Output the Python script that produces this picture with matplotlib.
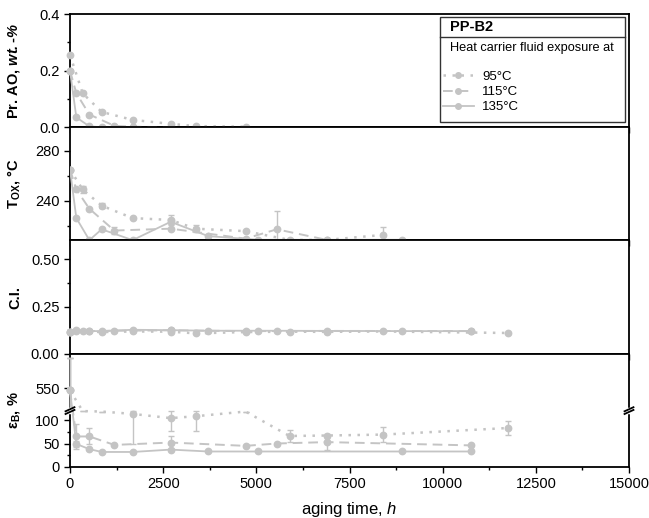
import numpy as np
import matplotlib
matplotlib.use("Agg")
import matplotlib.pyplot as plt
from matplotlib.lines import Line2D
from matplotlib.patches import Rectangle

plt.rcParams['font.family'] = ['Liberation Sans', 'DejaVu Sans']
plt.rcParams['mathtext.fontset'] = 'custom'
plt.rcParams['mathtext.rm'] = 'Liberation Sans'
plt.rcParams['mathtext.it'] = 'Liberation Sans:italic'
plt.rcParams['mathtext.bf'] = 'Liberation Sans:bold'
plt.rcParams['mathtext.bfit'] = 'Liberation Sans:bold:italic'

# ---- data ----
temps = ['95°C', '115°C', '135°C']

# Pr. AO, wt.-%
ao_t95 = [0, 340, 850, 1680, 2700, 3370, 4710]
ao_v95 = [0.255, 0.12, 0.054, 0.026, 0.012, 0.004, 0.002]
ao_t115 = [0, 170, 520, 1190, 1680, 2700]
ao_v115 = [0.20, 0.12, 0.045, 0.005, 0.002, 0.0]
ao_t135 = [0, 170, 520, 850, 1190, 1680]
ao_v135 = [0.20, 0.035, 0.003, 0.0, 0.0, 0.0]

# Tox, °C
tox_t95 = [0, 340, 850, 1680, 2700, 3370, 4710, 5890, 6890, 8410]
tox_v95 = [265, 249, 236, 226, 224.5, 217.5, 215.5, 208.5, 208.5, 212.5]
tox_e95 = [0, 3, 2, 0, 4, 3, 0, 0, 0, 6]
tox_t115 = [0, 170, 520, 1190, 2700, 4710, 5550, 6890]
tox_v115 = [265, 249, 233.5, 216, 217.5, 209.5, 217, 208.5]
tox_e115 = [0, 0, 0, 3, 0, 0, 15, 0]
tox_t135 = [0, 170, 520, 850, 1680, 2700, 3710, 5050, 8900]
tox_v135 = [265, 226, 208.3, 217, 208.3, 223, 211.5, 208.6, 208.6]

# C.I.
ci_t95 = [0, 340, 850, 1680, 2700, 3370, 4710, 5890, 6890, 8410, 11760]
ci_v95 = [0.113, 0.118, 0.115, 0.118, 0.117, 0.108, 0.115, 0.117, 0.116, 0.118, 0.11]
ci_t115 = [0, 170, 520, 1190, 2700, 4710, 5550, 6890, 10760]
ci_v115 = [0.113, 0.122, 0.12, 0.122, 0.124, 0.12, 0.12, 0.121, 0.12]
ci_t135 = [0, 170, 520, 850, 1680, 2700, 3710, 5050, 8900, 10760]
ci_v135 = [0.113, 0.125, 0.12, 0.12, 0.127, 0.125, 0.122, 0.122, 0.12, 0.12]

# elongation at break, %
eb_t95 = [0, 340, 850, 1680, 2700, 3370, 4710, 5890, 6890, 8410, 11760]
eb_v95 = [545, 119, 118, 113, 104, 108, 118, 66, 67, 69, 83]
eb_e95 = [70, 0, 0, 63, 27, 31, 0, 12, 0, 16, 14]
eb_t115 = [0, 170, 520, 1190, 2700, 4710, 5550, 6890, 10760]
eb_v115 = [545, 65, 65, 47, 52, 45, 50, 53, 46]
eb_e115 = [70, 27, 17, 0, 13, 0, 0, 17, 0]
eb_t135 = [0, 170, 520, 850, 1680, 2700, 3710, 5050, 8900, 10760]
eb_v135 = [545, 49, 38, 32, 32, 37, 33, 33, 33, 33]
eb_e135 = [70, 7, 0, 0, 0, 0, 0, 0, 0, 0]

grey = '#c4c4c4'
styles = [(0, (1, 2.6)), (0, (5, 3)), '-']
lws = [1.8, 1.4, 1.3]

fig = plt.figure(figsize=(6.49, 5.18), dpi=100)
top, bottom = 1 - 14 / 518, 1 - 467 / 518
left, right = 70 / 649, 629 / 649
axs = fig.subplots(4, 1, sharex=True,
                   gridspec_kw=dict(hspace=0, left=left, right=right, top=top, bottom=bottom))


def series(ax, t, v, k, err=None, clip=True, hide=None):
    mk = None
    if hide is not None:
        mk = [i for i, y in enumerate(v) if not hide(y)]
    ax.errorbar(t, v, yerr=err, color=grey, ls=styles[k], lw=lws[k],
                marker='o', ms=4.6, markevery=mk, ecolor=grey, elinewidth=1.0,
                capsize=2.5, capthick=1.0, clip_on=clip, zorder=3)


# panel 1
ax = axs[0]
series(ax, ao_t95, ao_v95, 0, clip=False)
series(ax, ao_t115, ao_v115, 1, clip=False)
series(ax, ao_t135, ao_v135, 2, clip=False)
ax.set_ylim(0, 0.4)
ax.set_yticks([0.0, 0.2, 0.4])
ax.set_yticks([0.1, 0.3], minor=True)
ax.set_yticklabels(['0.0', '0.2', '0.4'])
ax.set_ylabel('Pr. AO, $\\mathbfit{wt.}$-$\\mathbfit{\\%}$', fontweight='bold')

# panel 2
ax = axs[1]
series(ax, tox_t95, tox_v95, 0, err=tox_e95)
series(ax, tox_t115, tox_v115, 1, err=tox_e115)
series(ax, tox_t135, tox_v135, 2)
ax.set_ylim(208, 299)
ax.set_yticks([240, 280])
ax.set_yticks([220, 260], minor=True)
ax.set_ylabel('$\\mathbf{T_{OX}}$, °C', fontweight='bold')

# panel 3
ax = axs[2]
series(ax, ci_t95, ci_v95, 0, clip=False)
series(ax, ci_t115, ci_v115, 1, clip=False)
series(ax, ci_t135, ci_v135, 2, clip=False)
ax.set_ylim(0, 0.6)
ax.set_yticks([0.0, 0.25, 0.5])
ax.set_yticks([0.125, 0.375], minor=True)
ax.set_yticklabels(['0.00', '0.25', '0.50'])
ax.set_ylabel('C.I.', fontweight='bold')

# panel 4 with broken y axis (0-120 and 503-623)
ax = axs[3]
bx = [-1e5, 120, 503, 1e5]
by = [-1e5, 120, 121, 121 + 1e5 - 503]
ax.set_yscale('function', functions=(lambda y: np.interp(y, bx, by),
                                     lambda y: np.interp(y, by, bx)))
in_gap = lambda y: 117 < y < 503
series(ax, eb_t95, eb_v95, 0, err=eb_e95, clip=False, hide=in_gap)
series(ax, eb_t115, eb_v115, 1, err=eb_e115, clip=False, hide=in_gap)
series(ax, eb_t135, eb_v135, 2, err=eb_e135, clip=False, hide=in_gap)
ax.set_ylim(0, 623)
ax.set_yticks([0, 50, 100, 550])
ax.set_yticks([25, 75], minor=True)
ax.set_yticklabels(['0', '50', '100', '550'])
ax.set_ylabel('ε$_\\mathbf{B}$, %', fontweight='bold')
# break marks on both spines
yb = ax.transAxes.inverted().transform(ax.transData.transform((0, 120.5)))[1]
for xs in (0, 1):
    for dy in (-0.012, 0.012):
        ax.plot([xs - 0.008, xs + 0.008], [yb + dy - 0.018, yb + dy + 0.018],
                transform=ax.transAxes, color='black', lw=1.3, clip_on=False, zorder=5)
    ax.plot([xs, xs], [yb - 0.01, yb + 0.01], transform=ax.transAxes,
            color='white', lw=2.5, clip_on=False, zorder=4)

for ax in axs:
    ax.set_xlim(0, 15000)
    ax.set_xticks(np.arange(0, 15001, 2500))
    ax.set_xticks(np.arange(1250, 15000, 2500), minor=True)
    ax.tick_params(which='major', direction='out', length=4, width=1.0, labelsize=10.5)
    ax.tick_params(which='minor', direction='out', length=2.5, width=1.0)
    for s in ax.spines.values():
        s.set_linewidth(1.3)
    ax.yaxis.set_label_coords(-0.086, 0.5)
    ax.yaxis.label.set_size(10.5)

axs[3].set_xticklabels(['0', '2500', '5000', '7500', '10000', '12500', '15000'])
axs[3].set_xlabel('aging time, $\\mathit{h}$', fontsize=12, labelpad=6)

# legend box in the first panel
ax = axs[0]
x0, x1 = (440 - 70) / 559, (625 - 70) / 559
ytop = (127 - 17) / 113
ysep = (127 - 37) / 113
ybot = (127 - 122) / 113
ax.add_patch(Rectangle((x0, ybot), x1 - x0, ytop - ybot, transform=ax.transAxes,
                       fill=True, facecolor='white', edgecolor='#333333', lw=1.0,
                       clip_on=False, zorder=6))
ax.plot([x0, x1], [ysep, ysep], transform=ax.transAxes, color='#333333', lw=1.0,
        clip_on=False, zorder=7)
ax.text(x0 + 0.018, (ytop + ysep) / 2, 'PP-B2', transform=ax.transAxes,
        fontsize=10.5, fontweight='bold', va='center', zorder=8)
ax.text(x0 + 0.018, (127 - 48) / 113, 'Heat carrier fluid exposure at',
        transform=ax.transAxes, fontsize=9.2, va='center', zorder=8)
handles = [Line2D([], [], color=grey, ls=styles[k], lw=lws[k], marker='o', ms=4)
           for k in range(3)]
leg = ax.legend(handles, temps, loc='upper left', bbox_to_anchor=(x0, (127 - 68) / 113),
                frameon=False, fontsize=9.5, handlelength=2.4, handletextpad=0.6,
                labelspacing=0.22, borderpad=0.2, borderaxespad=0.0)
leg.set_zorder(9)

fig.savefig('out.png', dpi=100)
